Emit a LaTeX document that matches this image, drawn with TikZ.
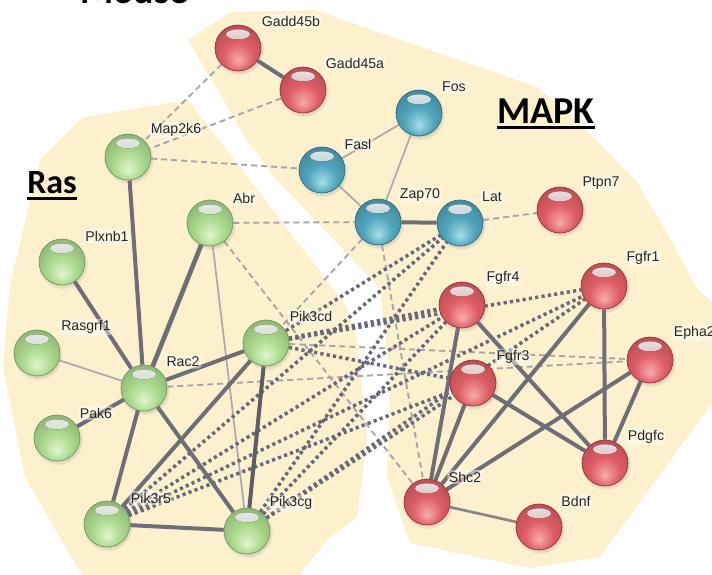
\documentclass[tikz,border=0pt]{standalone}
\usepackage{fontspec}
\setmainfont{Liberation Sans}
\newfontfamily\calfont{Carlito}
\usetikzlibrary{shadows}

\definecolor{bgtan}{RGB}{253,240,205}
\definecolor{rl}{HTML}{F6ACAC}
\definecolor{rm}{HTML}{DE5D66}
\definecolor{rd}{HTML}{9A2E36}
\definecolor{gl}{HTML}{E2F6CC}
\definecolor{gm}{HTML}{A9D88C}
\definecolor{gd}{HTML}{6B9A55}
\definecolor{bl}{HTML}{A6DEEA}
\definecolor{bm}{HTML}{4FA4BB}
\definecolor{bd}{HTML}{2A6A7E}
\definecolor{edgedark}{HTML}{6E6E78}
\definecolor{edgelight}{HTML}{ABABAE}
\definecolor{edgemid}{HTML}{85858E}
\definecolor{dashgray}{HTML}{A6A6AA}
\definecolor{dotgray}{HTML}{65697B}

\pgfdeclareradialshading{redball}{\pgfpoint{0bp}{-14bp}}{color(0bp)=(rl); color(16bp)=(rm); color(30bp)=(rm!85!black); color(39bp)=(rd); color(50bp)=(rd)}
\pgfdeclareradialshading{greenball}{\pgfpoint{0bp}{-14bp}}{color(0bp)=(gl); color(16bp)=(gm); color(30bp)=(gm!85!black); color(39bp)=(gd); color(50bp)=(gd)}
\pgfdeclareradialshading{blueball}{\pgfpoint{0bp}{-14bp}}{color(0bp)=(bl); color(16bp)=(bm); color(30bp)=(bm!85!black); color(39bp)=(bd); color(50bp)=(bd)}

\newcommand\myuline[2]{\setbox0=\hbox{#2}\rlap{\rule[-#1]{\wd0}{2.4pt}}\box0}

\pgfdeclarelayer{bgl}
\pgfdeclarelayer{edgel}
\pgfsetlayers{bgl,edgel,main}

\tikzset{
  ballbase/.style={circle, minimum size=34.5pt, inner sep=0pt, line width=0.5pt,
    circular drop shadow={shadow xshift=0.6pt, shadow yshift=-1.4pt, opacity=0.25}},
  rball/.style={ballbase, shading=redball, draw=rd,
    path picture={\fill[top color=white, bottom color=rl!70!rm, opacity=0.9]
      ([yshift=-7pt]path picture bounding box.north) ellipse [x radius=9pt, y radius=3.8pt];}},
  gball/.style={ballbase, shading=greenball, draw=gd,
    path picture={\fill[top color=white, bottom color=gl!70!gm, opacity=0.9]
      ([yshift=-7pt]path picture bounding box.north) ellipse [x radius=9pt, y radius=3.8pt];}},
  bball/.style={ballbase, shading=blueball, draw=bd,
    path picture={\fill[top color=white, bottom color=bl!70!bm, opacity=0.9]
      ([yshift=-7pt]path picture bounding box.north) ellipse [x radius=9pt, y radius=3.8pt];}},
  lbl/.style={font=\fontsize{10.6}{12}\selectfont, text=black!85, fill=white, fill opacity=0.45,
    text opacity=1, rounded corners=2pt, inner sep=1.2pt},
  title/.style={font=\calfont\bfseries\fontsize{28.5}{30}\selectfont, inner sep=0pt, anchor=base west},
  sedge/.style={draw=edgedark, line width=3pt},
  tedge/.style={draw=edgelight, line width=1.3pt},
  medge/.style={draw=edgemid, line width=2pt},
  dashedge/.style={draw=dashgray, line width=1.4pt, dash pattern=on 4.5pt off 3pt},
  dotedge/.style={draw=dotgray, line width=2.6pt, dash pattern=on 2.4pt off 2.4pt},
  region/.style={fill=bgtan, draw=none},
}

\begin{document}
\begin{tikzpicture}[x=0.75pt,y=-0.75pt]
\useasboundingbox (0,0) rectangle (712,574);

\begin{pgfonlayer}{bgl}
\fill[white] (0,0) rectangle (712,574);
% Ras region
\path[region] (83,117) -- (188,100) -- (250,180) -- (347,307) -- (357,340) -- (367,440)
  -- (357,517) -- (327,540) -- (295,580) -- (88,580) -- (77,567) -- (25,477) -- (3,367)
  -- (10,285) -- (40,160) -- cycle;
% MAPK region
\path[region] (188,40) -- (230,12) -- (315,10) -- (450,57) -- (537,87) -- (583,127)
  -- (637,182) -- (667,233) -- (697,288) -- (730,320) -- (730,390) -- (712,403)
  -- (600,557) -- (530,568) -- (410,543) -- (387,477) -- (390,380) -- (380,288)
  -- (277,180) -- (247,140) -- cycle;
\end{pgfonlayer}

% titles
\node[title] (mouse) at (80,3.5) {Mouse};
\node[title] (mapk) at (497,123) {\myuline{4.6pt}{MAPK}};
\node[title, font=\calfont\bfseries\fontsize{25.5}{28}\selectfont] (ras) at (27,193) {\myuline{5.2pt}{Ras}};

% nodes
\node[rball] (Gadd45b) at (238,48) {};
\node[rball] (Gadd45a) at (303,90) {};
\node[gball] (Map2k6) at (128,157) {};
\node[bball] (Fasl) at (322,170) {};
\node[bball] (Fos) at (419,113) {};
\node[bball] (Zap70) at (378,222) {};
\node[bball] (Lat) at (460,223) {};
\node[rball] (Ptpn7) at (560,210) {};
\node[gball] (Abr) at (210,223) {};
\node[gball] (Plxnb1) at (62,262) {};
\node[rball] (Fgfr1) at (604,286) {};
\node[rball] (Fgfr4) at (462,305) {};
\node[gball] (Pik3cd) at (266,343) {};
\node[gball] (Rasgrf1) at (37,353) {};
\node[rball] (Epha2) at (650,360) {};
\node[rball] (Fgfr3) at (473,383) {};
\node[gball] (Rac2) at (144,388) {};
\node[gball] (Pak6) at (57,438) {};
\node[rball] (Pdgfc) at (605,463) {};
\node[rball] (Shc2) at (427,502) {};
\node[rball] (Bdnf) at (539,527) {};
\node[gball] (Pik3r5) at (107,524) {};
\node[gball] (Pik3cg) at (247,531) {};

% edges
\begin{pgfonlayer}{edgel}
% light dashed
\draw[dashedge] (Gadd45b) -- (Map2k6);
\draw[dashedge] (Gadd45a) -- (Map2k6);
\draw[dashedge] (Map2k6) -- (Fasl);
\draw[dashedge] (Abr) -- (Zap70);
\draw[dashedge] (Abr) -- (Shc2);
\draw[dashedge] (Lat) -- (Ptpn7);
\draw[dashedge] (Zap70) -- (Pik3cd);
\draw[dashedge] (Zap70) -- (Shc2);
\draw[dashedge] (Rac2) -- (Epha2);
\draw[dashedge] (Pik3cd) -- (Epha2);
% thin solid
\draw[tedge] (Rasgrf1) -- (Rac2);
\draw[tedge] (Abr) -- (Pik3cg);
\draw[tedge] (Fasl) -- (Fos);
\draw[tedge] (Fasl) -- (Zap70);
\draw[tedge] (Fos) -- (Zap70);
\draw[medge] (Shc2) -- (Bdnf);
% dotted
\draw[dotedge] (Pik3cd) -- (Lat);
\draw[dotedge, line width=3.4pt] (Pik3cd) -- (Fgfr4);
\draw[dotedge] (Pik3cd) -- (Fgfr1);
\draw[dotedge] (Pik3cd) -- (Fgfr3);
\draw[dotedge] (Pik3r5) -- (Lat);
\draw[dotedge] (Pik3r5) -- (Fgfr4);
\draw[dotedge] (Pik3r5) -- (Fgfr1);
\draw[dotedge] (Pik3r5) -- (Fgfr3);
\draw[dotedge] (Pik3cg) -- (Lat);
\draw[dotedge] (Pik3cg) -- (Fgfr4);
\draw[dotedge] (Pik3cg) -- (Fgfr1);
\draw[dotedge] (Pik3cg) -- (Fgfr3);
% thick solid
\draw[sedge] (Gadd45b) -- (Gadd45a);
\draw[sedge] (Zap70) -- (Lat);
\draw[sedge] (Map2k6) -- (Rac2);
\draw[sedge] (Plxnb1) -- (Rac2);
\draw[sedge, line width=3.5pt] (Abr) -- (Rac2);
\draw[sedge] (Pak6) -- (Rac2);
\draw[sedge] (Rac2) -- (Pik3cd);
\draw[sedge] (Rac2) -- (Pik3r5);
\draw[sedge] (Rac2) -- (Pik3cg);
\draw[sedge] (Pik3cd) -- (Pik3r5);
\draw[sedge, draw=edgedark!85!black] (Pik3cd) -- (Pik3cg);
\draw[sedge] (Pik3r5) -- (Pik3cg);
\draw[sedge] (Fgfr4) -- (Shc2);
\draw[sedge] (Fgfr4) -- (Pdgfc);
\draw[sedge] (Fgfr3) -- (Shc2);
\draw[sedge] (Fgfr3) -- (Pdgfc);
\draw[sedge] (Fgfr1) -- (Shc2);
\draw[sedge] (Fgfr1) -- (Pdgfc);
\draw[sedge] (Epha2) -- (Shc2);
\draw[sedge] (Epha2) -- (Pdgfc);
\end{pgfonlayer}

% labels
\node[lbl] (lGadd45b) at (291,21) {Gadd45b};
\node[lbl] (lGadd45a) at (355,63) {Gadd45a};
\node[lbl] (lMap2k6) at (176,130) {Map2k6};
\node[lbl] (lFasl) at (358,144) {Fasl};
\node[lbl] (lFos) at (454,87) {Fos};
\node[lbl] (lZap70) at (420,195) {Zap70};
\node[lbl] (lLat) at (492,197) {Lat};
\node[lbl] (lPtpn7) at (601,183) {Ptpn7};
\node[lbl] (lAbr) at (244,198) {Abr};
\node[lbl] (lPlxnb1) at (107,236) {Plxnb1};
\node[lbl] (lFgfr1) at (643,258) {Fgfr1};
\node[lbl] (lFgfr4) at (503,278) {Fgfr4};
\node[lbl] (lPik3cd) at (311,316) {Pik3cd};
\node[lbl] (lRasgrf1) at (86,327) {Rasgrf1};
\node[lbl, anchor=west] (lEpha2) at (672,333) {Epha2};
\node[lbl] (lFgfr3) at (513,357) {Fgfr3};
\node[lbl] (lRac2) at (183,362) {Rac2};
\node[lbl] (lPak6) at (96,413) {Pak6};
\node[lbl] (lPdgfc) at (646,437) {Pdgfc};
\node[lbl] (lShc2) at (465,477) {Shc2};
\node[lbl] (lBdnf) at (576,501) {Bdnf};
\node[lbl] (lPik3r5) at (151,498) {Pik3r5};
\node[lbl] (lPik3cg) at (291,503) {Pik3cg};
\end{tikzpicture}
\end{document}
